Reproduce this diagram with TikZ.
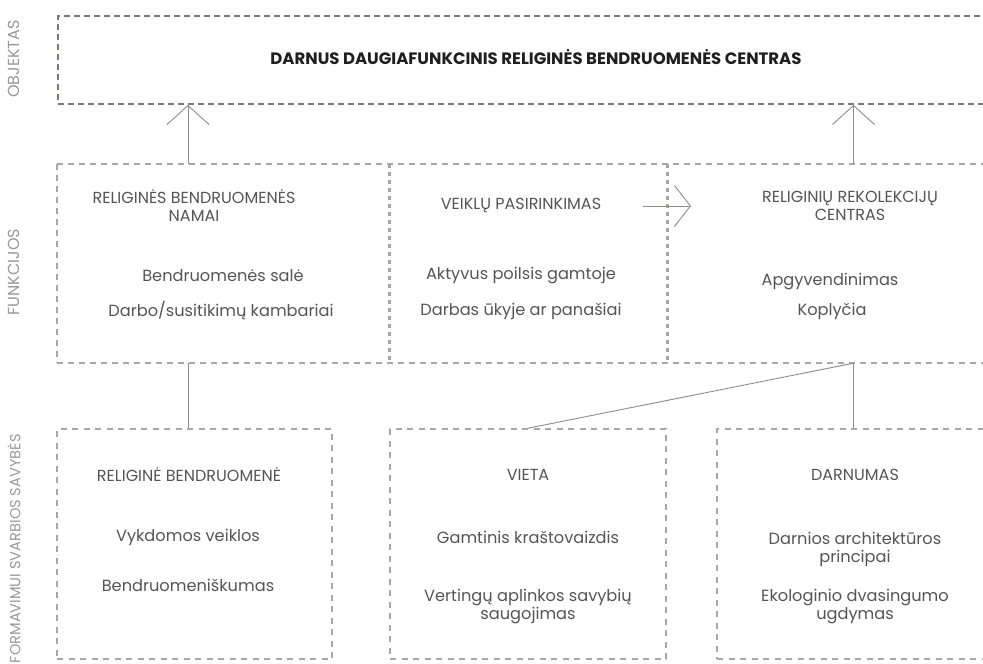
\documentclass[tikz,border=0pt]{standalone}
\usepackage{fontspec}
\setmainfont{Poppins}
\usetikzlibrary{arrows.meta,calc}
\definecolor{topdash}{HTML}{72806E}
\definecolor{boxdash}{HTML}{A8A8A6}
\definecolor{divdash}{HTML}{A3A89F}
\definecolor{conn}{HTML}{8C8C8C}
\definecolor{txt}{HTML}{555555}
\definecolor{side}{HTML}{999999}
\begin{document}
\begin{tikzpicture}[x=1pt,y=-1pt,
  topbox/.style={draw=topdash,line width=1.8pt,dash pattern=on 6pt off 4pt,inner sep=0pt},
  cell/.style={inner sep=0pt},
  thinedge/.style={draw=boxdash,line width=1.7pt,dash pattern=on 6pt off 5pt},
  divider/.style={draw=divdash,line width=3.4pt,dash pattern=on 4.5pt off 3.5pt},
  lbox/.style={draw=boxdash,line width=1.6pt,dash pattern=on 6pt off 5.5pt,inner sep=0pt},
  link/.style={draw=conn,line width=0.9pt},
  uparrow/.style={link,-{Straight Barb[length=19pt,width=42pt,line width=0.9pt]}},
  rarrow/.style={link,-{Straight Barb[length=16pt,width=41pt,line width=0.9pt]}},
  head/.style={text=txt,font=\fontsize{16}{18}\selectfont,align=center,inner sep=0pt},
  item/.style={text=txt,font=\fontsize{16.2}{17.5}\selectfont,align=center,inner sep=0pt},
  sidelbl/.style={text=side,font=\fontsize{16}{18}\selectfont,rotate=90,inner sep=0pt},
  titlelbl/.style={text=black!88,font=\bfseries\fontsize{16.5}{18}\selectfont,inner sep=0pt}]
\useasboundingbox (0,0) rectangle (983,664);
\clip (0,0) rectangle (983,664);
\fill[white] (0,0) rectangle (983,664);

% top object box
\node[topbox,minimum width=982pt,minimum height=88pt] (top) at (549,60) {};
\node[titlelbl] (title) at (536,57) {DARNUS DAUGIAFUNKCINIS RELIGINĖS BENDRUOMENĖS CENTRAS};

% function row cells
\node[cell,minimum width=332pt,minimum height=199pt] (f1) at (223,263.5) {};
\node[cell,minimum width=278pt,minimum height=199pt] (f2) at (528,263.5) {};
\node[cell,minimum width=373pt,minimum height=199pt] (f3) at (853.5,263.5) {};
\draw[thinedge] (f1.north west) -- (f3.north east);
\draw[thinedge] (f1.south west) -- (f3.south east);
\draw[thinedge] (f1.north west) -- (f1.south west);
\draw[divider] (f1.north east) -- (f1.south east);
\draw[divider] (f2.north east) -- (f2.south east);

% bottom boxes
\node[lbox,minimum width=275pt,minimum height=230pt] (b1) at (194.5,544) {};
\node[lbox,minimum width=276pt,minimum height=230pt] (b2) at (528,544) {};
\node[lbox,minimum width=323pt,minimum height=230pt] (b3) at (878.5,544) {};

% side labels
\node[sidelbl] (s1) at (14,59) {OBJEKTAS};
\node[sidelbl] (s2) at (14,272) {FUNKCIJOS};
\node[sidelbl,anchor=east,font=\fontsize{14.6}{17}\selectfont] (s3) at (14,434) {FORMAVIMUI SVARBIOS SAVYBĖS};

% function texts
\node[head] (f1h) at (194,206) {RELIGINĖS BENDRUOMENĖS\\NAMAI};
\node[item] (f1a) at (223,276) {Bendruomenės salė};
\node[item] (f1b) at (221,311) {Darbo/susitikimų kambariai};
\node[head] (f2h) at (521,205) {VEIKLŲ PASIRINKIMAS};
\node[item] (f2a) at (521,276) {Aktyvus poilsis gamtoje};
\node[item] (f2b) at (521,311) {Darbas ūkyje ar panašiai};
\node[head] (f3h) at (850,206) {RELIGINIŲ REKOLEKCIJŲ\\CENTRAS};
\node[item] (f3a) at (830,282) {Apgyvendinimas};
\node[item] (f3b) at (832,311) {Koplyčia};

% bottom texts
\node[head] (b1h) at (189,475) {RELIGINĖ BENDRUOMENĖ};
\node[item] (b1a) at (188,537) {Vykdomos veiklos};
\node[item] (b1b) at (188,585) {Bendruomeniškumas};
\node[head] (b2h) at (528,475) {VIETA};
\node[item] (b2a) at (528,537) {Gamtinis kraštovaizdis};
\node[item] (b2b) at (528,606.5) {Vertingų aplinkos savybių\\saugojimas};
\node[head] (b3h) at (855,475) {DARNUMAS};
\node[item] (b3a) at (855,549.5) {Darnios architektūros\\principai};
\node[item] (b3b) at (855,606.5) {Ekologinio dvasingumo\\ugdymas};

% connectors
\coordinate (k1) at (188,0);
\draw[uparrow] (k1 |- f1.north) -- (k1 |- top.south);
\draw[uparrow] (f3.north) -- (f3.north |- top.south);
\draw[link] (k1 |- f1.south) -- (k1 |- b1.north);
\draw[link] (f3.south) -- (f3.south |- b3.north);
\draw[link] (f3.south) -- (b2.north);
\coordinate (ha) at (643,206);
\coordinate (hb) at (691,206);
\draw[rarrow] (ha) -- (hb);
\end{tikzpicture}
\end{document}
